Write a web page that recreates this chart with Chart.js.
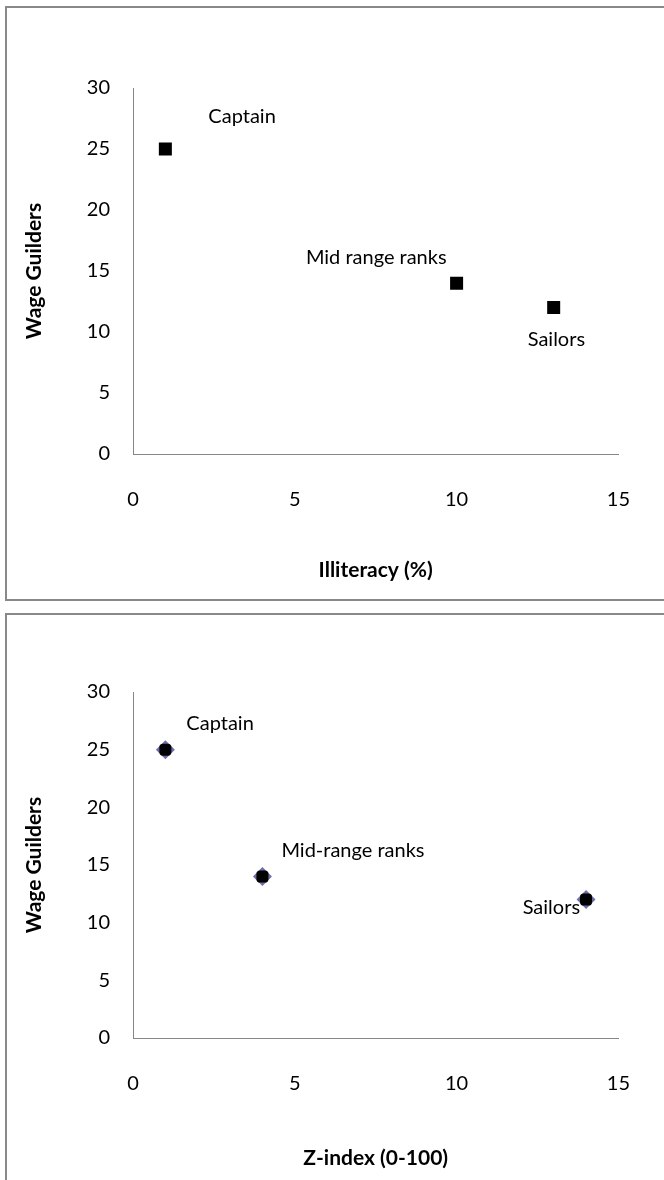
<!DOCTYPE html>
<html>
<head>
<meta charset="utf-8">
<script src="https://cdn.jsdelivr.net/npm/chart.js@4.4.0/dist/chart.umd.min.js"></script>
<style>
body{margin:0;background:#fff;width:664px;height:1180px;overflow:hidden;position:relative;font-family:Lato,sans-serif}
.box{position:absolute;left:5px;width:700px;border:2px solid #898989;box-sizing:border-box}
#box1{top:6px;height:595px}
#box2{top:613px;height:700px}
.wrap{position:absolute;left:0;width:664px}
#w1{top:0;height:599px}
#w2{top:613px;height:567px}
</style>
</head>
<body>
<div class="box" id="box1"></div>
<div class="box" id="box2"></div>
<div class="wrap" id="w1"><canvas id="chart1"></canvas></div>
<div class="wrap" id="w2"><canvas id="chart2"></canvas></div>
<script>
// data
const ranks1 = ['Captain', 'Mid range ranks', 'Sailors'];
const illiteracy = [1, 10, 13];
const wage1 = [25, 14, 12];

const ranks2 = ['Captain', 'Mid-range ranks', 'Sailors'];
const zIndex = [1, 4, 14];
const wage2 = [25, 14, 12];

const xTicks = [0, 5, 10, 15];
const yTicks = [0, 5, 10, 15, 20, 25, 30];

const axisColor = '#868686';
const fontFamily = 'Lato, sans-serif';

// text labels next to each point
const pointLabels = {
    id: 'pointLabels',
    afterDatasetsDraw(chart, args, opts) {
        const c = chart.ctx;
        const xs = chart.scales.x, ys = chart.scales.y;
        c.save();
        c.font = '20px ' + fontFamily;
        c.fillStyle = '#000';
        c.textBaseline = 'middle';
        opts.names.forEach((name, i) => {
            const px = xs.getPixelForValue(opts.xv[i]);
            const py = ys.getPixelForValue(opts.yv[i]);
            const o = opts.offsets[i];
            c.textAlign = o[2];
            c.fillText(name, px + o[0], py + o[1]);
        });
        c.restore();
    }
};

function makeChart(id, xv, yv, names, offsets, xTitle, pad, yAxisW, xAxisH, titlePadB, datasets) {
    return new Chart(document.getElementById(id), {
        type: 'scatter',
        data: { datasets: datasets },
        options: {
            responsive: true,
            maintainAspectRatio: false,
            animation: false,
            layout: { padding: pad },
            plugins: {
                legend: { display: false },
                tooltip: { enabled: false },
                pointLabels: { names: names, xv: xv, yv: yv, offsets: offsets }
            },
            scales: {
                x: {
                    type: 'linear', min: 0, max: 15,
                    afterBuildTicks: s => { s.ticks = xTicks.map(v => ({ value: v })); },
                    afterFit: s => { s.height = xAxisH; },
                    grid: { display: false, drawTicks: false },
                    border: { color: axisColor, width: 1 },
                    ticks: { padding: 34, color: '#000', font: { family: fontFamily, size: 20 } },
                    title: { display: true, text: xTitle, color: '#000',
                        font: { family: fontFamily, size: 21, weight: 'bold' }, padding: { bottom: titlePadB } }
                },
                y: {
                    type: 'linear', min: 0, max: 30,
                    afterBuildTicks: s => { s.ticks = yTicks.map(v => ({ value: v })); },
                    afterFit: s => { s.width = yAxisW; },
                    grid: { display: false, drawTicks: false },
                    border: { color: axisColor, width: 1 },
                    ticks: { padding: 23, color: '#000', font: { family: fontFamily, size: 20 } },
                    title: { display: true, text: 'Wage Guilders', color: '#000',
                        font: { family: fontFamily, size: 21, weight: 'bold' }, padding: { top: 22 } }
                }
            }
        },
        plugins: [pointLabels]
    });
}

function pts(xv, yv) { return xv.map((x, i) => ({ x: x, y: yv[i] })); }

makeChart('chart1', illiteracy, wage1, ranks1,
    [[43, -32, 'left'], [-10, -26, 'right'], [-26, 32, 'left']],
    'Illiteracy (%)', { top: 88, right: 34, left: 0, bottom: 0 }, 133, 145, 16,
    [{
        data: pts(illiteracy, wage1),
        pointStyle: 'rect', pointRadius: 9.2,
        backgroundColor: '#000', borderColor: '#000', borderWidth: 0
    }]);

makeChart('chart2', zIndex, wage2, ranks2,
    [[21, -26, 'left'], [19, -26, 'left'], [-6, 8, 'right']],
    'Z-index (0-100)', { top: 79, right: 34, left: 0, bottom: 0 }, 133, 142, 9,
    [{
        data: pts(zIndex, wage2),
        pointStyle: 'rectRounded', pointRadius: 7,
        backgroundColor: '#000', borderColor: '#000', borderWidth: 0
    }, {
        data: pts(zIndex, wage2),
        pointStyle: 'rectRot', pointRadius: 9.5,
        backgroundColor: '#6e6eaa', borderColor: '#6e6eaa', borderWidth: 0
    }]);
</script>
</body>
</html>
